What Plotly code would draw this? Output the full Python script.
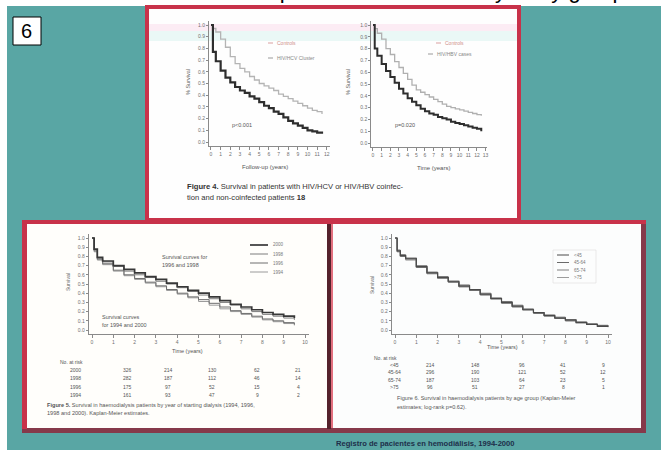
import plotly.graph_objects as go

W, H = 661, 450

# ---------------- data ----------------
# Panel A: survival, two groups
a_years = [0, 0.2, 0.5, 1, 1.5, 2, 2.5, 3, 3.5, 4, 4.5, 5, 5.5, 6, 6.5, 7, 7.5, 8,
           8.5, 9, 9.5, 10, 10.5, 11, 11.5]
a_controls = [1.0, 0.97, 0.94, 0.88, 0.81, 0.73, 0.67, 0.63, 0.60, 0.56, 0.53, 0.50,
              0.48, 0.46, 0.44, 0.41, 0.39, 0.37, 0.35, 0.33, 0.31, 0.29, 0.27, 0.26, 0.24]
a_coinfected = [1.0, 0.77, 0.69, 0.61, 0.55, 0.51, 0.47, 0.44, 0.42, 0.39, 0.37, 0.34,
                0.31, 0.29, 0.26, 0.24, 0.21, 0.18, 0.16, 0.14, 0.12, 0.10, 0.09, 0.08, 0.07]

# Panel B: survival, two groups
b_years = [0, 0.2, 0.5, 1, 1.5, 2, 2.5, 3, 3.5, 4, 4.5, 5, 5.5, 6, 6.5, 7, 7.5, 8,
           8.5, 9, 9.5, 10, 10.5, 11, 11.5, 12, 12.5]
b_controls = [1.0, 0.97, 0.93, 0.88, 0.80, 0.75, 0.69, 0.64, 0.59, 0.54, 0.49, 0.45,
              0.43, 0.41, 0.39, 0.37, 0.35, 0.33, 0.31, 0.30, 0.29, 0.28, 0.27, 0.26,
              0.25, 0.24, 0.23]
b_coinfected = [1.0, 0.80, 0.74, 0.67, 0.61, 0.56, 0.51, 0.46, 0.42, 0.38, 0.35, 0.32,
                0.29, 0.27, 0.25, 0.24, 0.22, 0.21, 0.20, 0.18, 0.17, 0.16, 0.15, 0.14,
                0.13, 0.12, 0.10]

# Panel C: survival by starting period
c_years = [0, 0.1, 0.25, 0.5, 1, 1.5, 2, 2.5, 3, 3.5, 4, 4.5, 5, 5.5, 6, 6.5, 7, 7.5,
           8, 8.5, 9, 9.5]
c_2000 = [1.0, 0.88, 0.79, 0.75, 0.70, 0.66, 0.62, 0.58, 0.55, 0.51, 0.47, 0.43, 0.40,
          0.36, 0.32, 0.28, 0.25, 0.22, 0.19, 0.17, 0.15, 0.13]
c_1998 = [1.0, 0.87, 0.78, 0.74, 0.69, 0.64, 0.60, 0.57, 0.53, 0.50, 0.46, 0.42, 0.38,
          0.34, 0.30, 0.27, 0.23, 0.20, 0.17, 0.15, 0.13, 0.11]
c_1996 = [1.0, 0.86, 0.77, 0.72, 0.65, 0.60, 0.56, 0.52, 0.48, 0.44, 0.40, 0.36, 0.33,
          0.29, 0.25, 0.21, 0.18, 0.15, 0.12, 0.10, 0.08, 0.06]
c_1994 = [1.0, 0.85, 0.76, 0.71, 0.64, 0.59, 0.55, 0.51, 0.47, 0.43, 0.39, 0.35, 0.31,
          0.27, 0.23, 0.20, 0.17, 0.14, 0.11, 0.09, 0.07, 0.05]
c_groups = ["2000", "1998", "1996", "1994"]
c_at_risk = [["326", "214", "130", "62", "21"],
             ["282", "187", "112", "46", "14"],
             ["175", "97", "52", "15", "4"],
             ["161", "93", "47", "9", "2"]]

# Panel D: survival by age group
d_years = [0, 0.1, 0.25, 0.5, 1, 1.5, 2, 2.5, 3, 3.5, 4, 4.5, 5, 5.5, 6, 6.5, 7, 7.5,
           8, 8.5, 9, 9.5, 10]
d_g1 = [1.0, 0.86, 0.81, 0.78, 0.69, 0.62, 0.57, 0.53, 0.48, 0.44, 0.39, 0.34, 0.30,
        0.26, 0.22, 0.19, 0.16, 0.13, 0.11, 0.08, 0.06, 0.04, 0.035]
d_g2 = [1.0, 0.85, 0.80, 0.77, 0.68, 0.62, 0.58, 0.52, 0.47, 0.43, 0.38, 0.34, 0.29,
        0.25, 0.22, 0.18, 0.15, 0.13, 0.10, 0.08, 0.06, 0.05, 0.04]
d_g3 = [1.0, 0.87, 0.82, 0.78, 0.70, 0.63, 0.57, 0.53, 0.49, 0.44, 0.40, 0.35, 0.31,
        0.27, 0.23, 0.19, 0.16, 0.14, 0.11, 0.09, 0.07, 0.05, 0.04]
d_g4 = [1.0, 0.86, 0.80, 0.76, 0.68, 0.61, 0.56, 0.52, 0.47, 0.43, 0.39, 0.34, 0.30,
        0.26, 0.22, 0.19, 0.16, 0.13, 0.10, 0.08, 0.06, 0.04, 0.03]
d_groups = ["<45", "45-64", "65-74", ">75"]
d_at_risk = [["214", "148", "96", "41", "9"],
             ["296", "190", "121", "52", "12"],
             ["187", "103", "64", "23", "5"],
             ["96", "51", "27", "8", "1"]]

TEAL = "#59a6a4"
RED = "#c8324a"
MAROON = "#86394a"
INK = "#3a3a3a"
FONT = "Arial, Liberation Sans, sans-serif"


def fx(p):
    return p / W


def fy(p):
    return 1 - p / H


def domain(p_a, v_a, p_b, v_b, r0, r1, total, vertical=False):
    ppu = (p_b - p_a) / (v_b - v_a)
    q0 = p_a + (r0 - v_a) * ppu
    q1 = p_a + (r1 - v_a) * ppu
    if vertical:
        lo, hi = 1 - q0 / total, 1 - q1 / total
    else:
        lo, hi = q0 / total, q1 / total
    return [min(lo, hi), max(lo, hi)]


shapes = []
annotations = []


def rect(x0, y0, x1, y1, fill, line=None, lw=0):
    shapes.append(dict(type="rect", xref="paper", yref="paper", layer="below",
                       x0=fx(x0), x1=fx(x1), y0=fy(y1), y1=fy(y0), fillcolor=fill,
                       line=dict(color=line or fill, width=lw)))


def hline(x0, x1, y, color, width):
    shapes.append(dict(type="line", xref="paper", yref="paper", layer="above",
                       x0=fx(x0), x1=fx(x1), y0=fy(y), y1=fy(y),
                       line=dict(color=color, width=width)))


def text(x, y, s, size=5.5, color=INK, xanchor="left", angle=0, bold=False):
    annotations.append(dict(x=fx(x), y=fy(y), xref="paper", yref="paper",
                            text=f"<b>{s}</b>" if bold else s, showarrow=False,
                            xanchor=xanchor, yanchor="middle", textangle=angle,
                            font=dict(size=size, color=color, family=FONT)))


# ---------------- slide background and frames ----------------
rect(7, 6, W, H, TEAL)
# number box
rect(13, 17, 41, 45, "white", "black", 1)
text(27, 31, "6", size=20, color="black", xanchor="center")

# top frame
rect(145, 5, 521, 222, RED)
rect(149, 9, 517, 218, "#fefefe")
rect(149, 24, 517, 31, "#fcecf4")
rect(149, 31, 517, 41, "#eaf8f6")

# bottom frames
rect(22, 220, 646, 433, MAROON)
rect(22, 220, 646, 224, RED)
rect(22, 220, 27, 429, RED)
rect(27, 224, 327, 428, "#fffefb")
rect(327, 224, 331, 429, "#55222c")
rect(331, 224, 333, 428, "#e2707f")
rect(333, 224, 641, 428, "#fcfdfd")

# ---------------- survival curves ----------------
fig = go.Figure()


def add_curve(idx, xs, ys, color, width):
    fig.add_trace(go.Scatter(x=xs, y=ys, mode="lines", line=dict(color=color, width=width,
                             shape="hv"), xaxis=f"x{idx}", yaxis=f"y{idx}",
                             showlegend=False, hoverinfo="skip"))


add_curve(1, a_years, a_controls, "#b4b4b4", 1.3)
add_curve(1, a_years, a_coinfected, "#2e2e2e", 2.2)
add_curve(2, b_years, b_controls, "#b0b0b0", 1.3)
add_curve(2, b_years, b_coinfected, "#2e2e2e", 2.0)
add_curve(3, c_years, c_1994, "#9a9a9a", 1.0)
add_curve(3, c_years, c_1996, "#6e6e6e", 1.0)
add_curve(3, c_years, c_1998, "#7c7c7c", 1.0)
add_curve(3, c_years, c_2000, "#383838", 1.7)
add_curve(4, d_years, d_g4, "#9c9c9c", 1.0)
add_curve(4, d_years, d_g3, "#808080", 1.0)
add_curve(4, d_years, d_g2, "#6a6a6a", 1.0)
add_curve(4, d_years, d_g1, "#4a4a4a", 1.2)

# axis placement: (pixel, value) pairs for each panel
panels = {
    1: dict(x=(211, 0, 322, 11.5), xr=(-0.2, 12.3), y=(142, 0, 25, 1), yr=(-0.03, 1.03), xd=1),
    2: dict(x=(373, 0, 483, 12.7), xr=(-0.2, 13.2), y=(143, 0, 25, 1), yr=(-0.03, 1.03), xd=1),
    3: dict(x=(92, 0, 305, 10), xr=(-0.15, 10.2), y=(330, 0, 238, 1), yr=(-0.04, 1.04), xd=1),
    4: dict(x=(395, 0, 608, 10), xr=(-0.15, 10.2), y=(330, 0, 238, 1), yr=(-0.04, 1.04), xd=1),
}

layout_axes = {}
for i, p in panels.items():
    xa = dict(domain=domain(*p["x"], *p["xr"], W), range=list(p["xr"]), anchor=f"y{i}",
              dtick=p["xd"], tick0=0, showline=True, linecolor="#8a8a8a", linewidth=1,
              ticks="outside", ticklen=3, tickcolor="#8a8a8a", showgrid=False,
              zeroline=False, tickfont=dict(size=5, color="#707070", family=FONT))
    ya = dict(domain=domain(*p["y"], *p["yr"], H, vertical=True), range=list(p["yr"]),
              anchor=f"x{i}", dtick=0.1, tick0=0, tickformat=".1f", showline=True,
              linecolor="#8a8a8a", linewidth=1, ticks="outside", ticklen=2,
              tickcolor="#8a8a8a", showgrid=False, zeroline=False,
              tickfont=dict(size=5, color="#707070", family=FONT))
    layout_axes[f"xaxis{i}" if i > 1 else "xaxis"] = xa
    layout_axes[f"yaxis{i}" if i > 1 else "yaxis"] = ya

# ---------------- panel texts ----------------
# top panel, left chart
text(188, 82, "% Survival", 5.5, "#666", "center", -90)
text(265, 167, "Follow-up (years)", 6, "#555", "center")
text(230, 125, "p<0.001", 5.5, "#555")
hline(268, 273, 43, "#d9a0a0", 1)
text(275, 43, "Controls", 5, "#cf8f8a")
hline(268, 273, 58, "#9a9a9a", 1)
text(275, 58, "HIV/HCV Cluster", 5, "#888")
# top panel, right chart
text(348, 82, "% Survival", 5.5, "#666", "center", -90)
text(433, 168, "Time (years)", 6, "#555", "center")
text(393, 125, "p=0.020", 5.5, "#555")
hline(436, 441, 43, "#d9a0a0", 1)
text(443, 43, "Controls", 5, "#cf8f8a")
hline(428, 433, 54, "#9a9a9a", 1)
text(435, 54, "HIV/HBV cases", 5, "#888")
# top caption
text(185, 186, "<b>Figure 4.</b> Survival in patients with HIV/HCV or HIV/HBV coinfec-", 7.6, "#333")
text(185, 198, "tion and non-coinfected patients <b>18</b>", 7.6, "#333")

# bottom-left chart
text(68, 282, "Survival", 5, "#666", "center", -90)
text(187, 351, "Time (years)", 5.5, "#555", "center")
text(160, 257, "Survival curves for", 5.5, "#555")
text(160, 265, "1996 and 1998", 5.5, "#555")
text(100, 317, "Survival curves", 5.5, "#555")
text(100, 325, "for 1994 and 2000", 5.5, "#555")
c_leg_style = [("#383838", 1.7), ("#7c7c7c", 1), ("#6e6e6e", 1), ("#9a9a9a", 1)]
for k, (g, (col, w)) in enumerate(zip(c_groups, c_leg_style)):
    yy = 245 + k * 9
    hline(250, 268, yy, col, w)
    text(271, yy, g, 4.5, "#777")
text(58, 362, "No. at risk", 5, "#555")
c_cols = [127, 168, 212, 257, 298]
for r, (g, row) in enumerate(zip(c_groups, c_at_risk)):
    yy = 370 + r * 8.3
    text(75, yy, g, 5, "#555", "center")
    for cx, v in zip(c_cols, row):
        text(cx, yy, v, 5, "#555", "center")
text(45, 405, "<b>Figure 5.</b> Survival in haemodialysis patients by year of starting dialysis (1994, 1996,", 5.6, "#555")
text(45, 413, "1998 and 2000). Kaplan-Meier estimates.", 5.6, "#555")

# bottom-right chart
text(372, 285, "Survival", 5, "#666", "center", -90)
text(502, 347, "Time (years)", 5.5, "#555", "center")
shapes.append(dict(type="rect", xref="paper", yref="paper", layer="above",
                   x0=fx(553), x1=fx(596), y0=fy(283), y1=fy(250),
                   line=dict(color="#dddddd", width=0.6)))
d_leg_col = ["#4a4a4a", "#6a6a6a", "#808080", "#9c9c9c"]
for k, (g, col) in enumerate(zip(d_groups, d_leg_col)):
    yy = 255 + k * 7.5
    hline(557, 569, yy, col, 1)
    text(572, yy, g, 4.5, "#777")
text(372, 358, "No. at risk", 5, "#555")
d_cols = [430, 475, 522, 563, 603]
for r, (g, row) in enumerate(zip(d_groups, d_at_risk)):
    yy = 365 + r * 7.3
    text(395, yy, g, 5, "#555", "center")
    for cx, v in zip(d_cols, row):
        text(cx, yy, v, 5, "#555", "center")
text(395, 398, "Figure 6. Survival in haemodialysis patients by age group (Kaplan-Meier", 5.6, "#555")
text(395, 407, "estimates; log-rank p=0.62).", 5.6, "#555")

# slide title (running off the top edge) and footer source
annotations.append(dict(x=fx(170), y=fy(4), xref="paper", yref="paper", xanchor="left",
                        yanchor="bottom", showarrow=False, borderpad=0,
                        text="Survival of patients on haemodialysis by group",
                        font=dict(size=22, color="black", family=FONT)))
text(334, 443, "Registro de pacientes en hemodiálisis, 1994-2000", 7.6, "#1e2f4a", bold=True)

fig.update_layout(width=W, height=H, margin=dict(l=0, r=0, t=0, b=0),
                  paper_bgcolor="white", plot_bgcolor="rgba(0,0,0,0)",
                  shapes=shapes, annotations=annotations, showlegend=False,
                  **layout_axes)

fig.write_html("out.html")
